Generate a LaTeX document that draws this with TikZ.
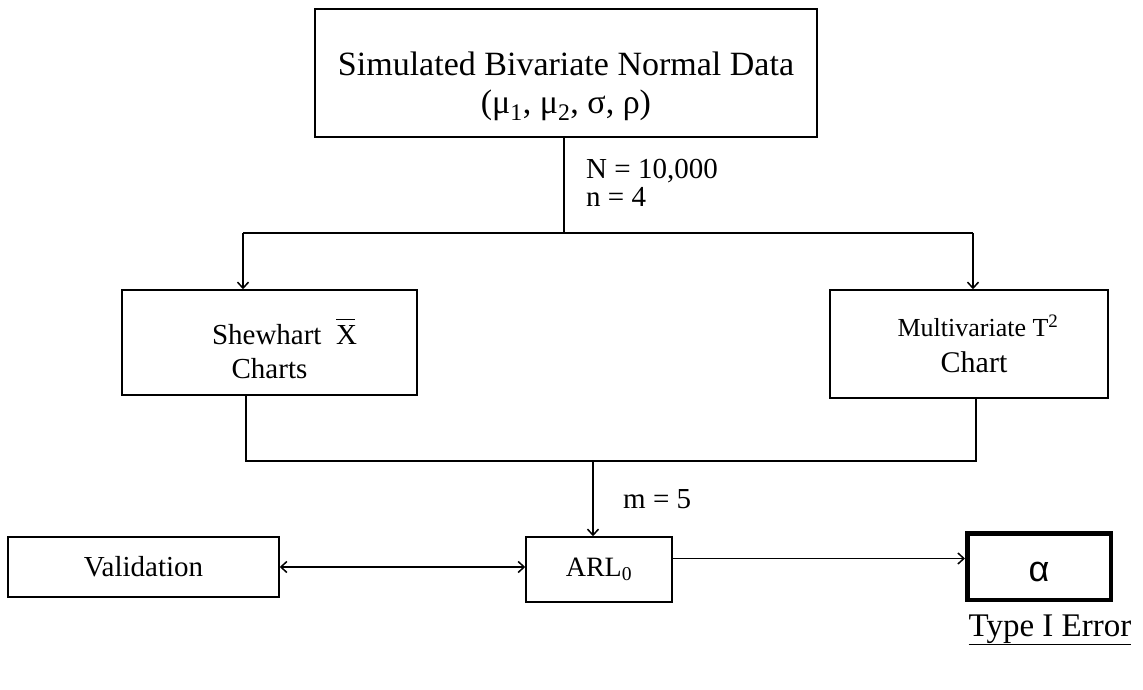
\documentclass[tikz,border=0pt]{standalone}
\usepackage{fontspec}
\setmainfont{Liberation Serif}
\newfontfamily\alphafont{Liberation Sans}
\usepackage{tikz}
\usetikzlibrary{positioning,arrows.meta,calc}

\newcommand{\fsz}[1]{\fontsize{#1}{#1}\selectfont}
% bar over a letter, drawn as a rule
\newcommand{\barX}{\makebox[0pt][l]{\rule[24pt]{19pt}{1.3pt}}X}

\begin{document}
\begin{tikzpicture}[x=1pt, y=-1pt,
  box/.style={draw, line width=1.5pt, inner sep=0pt, align=center},
  link/.style={line width=1.5pt},
  flow/.style={link, -{Straight Barb[length=6pt, width=11pt, line width=1.5pt]}},
  twoway/.style={link, {Straight Barb[length=6pt, width=11pt, line width=1.5pt]}-{Straight Barb[length=6pt, width=11pt, line width=1.5pt]}}]
\fill[white] (0,0) rectangle (1143,690);
\useasboundingbox (0,0) rectangle (1143,690);

% ===== Data source =====
\node[box, minimum width=502pt, minimum height=128pt,
      font=\fontsize{34}{38}\selectfont] (data) at (566,73)
  {\rule{0pt}{50pt}Simulated Bivariate Normal Data\\
   (μ\textsubscript{1}, μ\textsubscript{2}, σ, ρ)};
\node[inner sep=0pt, anchor=west, align=left,
      font=\fontsize{29}{28}\selectfont] (sizes) at (586,183)
  {N = 10,000\\n = 4};

% ===== Control charts =====
\node[box, minimum width=295pt, minimum height=105pt,
      font=\fontsize{29}{34}\selectfont] (shew) at (269.5,342.5)
  {\rule{0pt}{38pt}\hspace*{30pt}Shewhart~~\barX\\Charts};
\node[box, minimum width=278pt, minimum height=108pt,
      font=\fontsize{30}{36}\selectfont] (mvt) at (969,344)
  {{\fontsize{26}{36}\selectfont\hspace*{18pt}Multivariate T\textsuperscript{\fsz{19}2}}\\\hspace*{10pt}Chart};

% split from the data box
\coordinate (split) at (564,233);
\coordinate (bl) at (243,233);
\coordinate (br) at (973,233);
\draw[link] (data.south -| split) -- (split);
\draw[link] (bl) -- (br);
\draw[flow] (bl) -- (bl |- shew.north);
\draw[flow] (br) -- (br |- mvt.north);

% ===== Run length =====
\node[box, minimum width=146pt, minimum height=65pt,
      font=\fontsize{28}{28}\selectfont] (arl) at (599,569.5)
  {ARL\textsubscript{0}};
\node[box, minimum width=271pt, minimum height=60pt,
      font=\fontsize{29}{29}\selectfont] (val) at (143.5,567)
  {Validation};
\node[box, line width=4.5pt, minimum width=143.5pt, minimum height=66.5pt,
      font=\alphafont\fontsize{36}{36}\selectfont] (alpha) at (1039,566.5)
  {\rule{0pt}{31pt}α};

% merge into the run length
\coordinate (jl) at (246,461);
\coordinate (jr) at (976,461);
\coordinate (jm) at (593,461);
\draw[link] (jl |- shew.south) -- (jl) -- (jr) -- (jr |- mvt.south);
\draw[flow] (jm) -- (jm |- arl.north);
\node[inner sep=0pt, anchor=base west, font=\fontsize{29}{29}\selectfont]
  (mlabel) at (623,508) {m = 5};

\draw[twoway] (val.east) -- (val.east -| arl.west);
\draw[flow] ([yshift=11pt]arl.east) -- ([yshift=11pt]arl.east -| alpha.west);

\node[inner sep=0pt, anchor=base, font=\fontsize{33}{33}\selectfont]
  (errlabel) at (1050,636) {\underline{Type I Error}};
\end{tikzpicture}
\end{document}
